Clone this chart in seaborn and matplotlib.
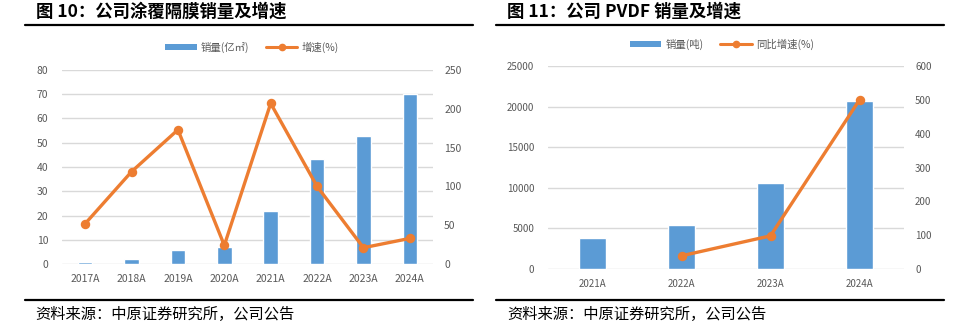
import matplotlib
matplotlib.use("Agg")
import matplotlib.pyplot as plt
from matplotlib.lines import Line2D
from matplotlib.patches import Patch
import seaborn as sns
import pandas as pd
import numpy as np

sns.set_theme(style="white")
plt.rcParams["font.family"] = ["Noto Sans CJK SC", "DejaVu Sans"]
plt.rcParams["axes.unicode_minus"] = False

# Coated separator sales volume (100M m²) and growth (%)
sep_years = ["2017A", "2018A", "2019A", "2020A", "2021A", "2022A", "2023A", "2024A"]
sep_volume = [1.0, 1.9, 5.8, 7.0, 21.7, 43.4, 52.6, 70.0]
sep_growth = [52, 119, 173, 24, 207, 100, 21, 33]

# PVDF sales volume (t) and YoY growth (%)
pvdf_years = ["2021A", "2022A", "2023A", "2024A"]
pvdf_volume = [3800, 5400, 10600, 20700]
pvdf_growth_years = ["2022A", "2023A", "2024A"]
pvdf_growth = [39, 98, 500]

BLUE = "#5B9BD5"
ORANGE = "#ED7D31"
GRID = "#D9D9D9"
TICK = "#595959"

W, H = 961, 331
fig = plt.figure(figsize=(W / 100, H / 100), dpi=100)
fig.patch.set_facecolor("white")


def px_axes(x0, y0, x1, y1):
    return fig.add_axes([x0 / W, 1 - y1 / H, (x1 - x0) / W, (y1 - y0) / H])


def hline(x0, x1, y, lw=1.6):
    fig.add_artist(Line2D([x0 / W, x1 / W], [1 - y / H, 1 - y / H],
                          color="black", lw=lw, transform=fig.transFigure))


def style(ax, ax2, ymax, ystep, y2max, y2step, fs):
    ax.set_ylim(0, ymax)
    ax.set_yticks(np.arange(0, ymax + 1, ystep))
    ax2.set_ylim(0, y2max)
    ax2.set_yticks(np.arange(0, y2max + 1, y2step))
    ax.yaxis.grid(True, color=GRID, lw=1.0, zorder=0)
    ax.set_axisbelow(True)
    for a in (ax, ax2):
        for s in a.spines.values():
            s.set_visible(False)
        a.tick_params(length=0, colors=TICK, labelsize=fs)
        a.set_xlabel("")
        a.set_ylabel("")
    ax.tick_params(axis="y", pad=10)
    ax2.tick_params(axis="y", pad=8)
    ax.tick_params(axis="x", pad=7)


def legend(cx, cy, labels):
    handles = [Patch(facecolor=BLUE, edgecolor="none"),
               Line2D([0], [0], color=ORANGE, lw=2.2, marker="o", markersize=4.5)]
    fig.legend(handles, labels, loc="center", bbox_to_anchor=(cx / W, 1 - cy / H),
               ncol=2, frameon=False, fontsize=7.5, handlelength=3.0,
               handleheight=0.45, columnspacing=1.6, handletextpad=0.4,
               labelcolor=TICK)


def source(x):
    fig.text(x / W, 1 - 314 / H, "资料来源：中原证券研究所，公司公告", fontsize=11,
             va="center", ha="left", color="black")


# ---------------- left panel ----------------
fig.text(36 / W, 1 - 12 / H, "图 10：公司涂覆隔膜销量及增速", fontsize=12.5,
         fontweight="bold", va="center", ha="left", color="black")
hline(25, 473, 25)
hline(25, 473, 300)
source(35)

ax1 = px_axes(62, 70, 433, 264)
df1 = pd.DataFrame({"year": sep_years, "volume": sep_volume, "growth": sep_growth})
sns.barplot(data=df1, x="year", y="volume", order=sep_years, color=BLUE,
            width=0.31, saturation=1, ax=ax1)
ax1b = ax1.twinx()
sns.pointplot(data=df1, x="year", y="growth", order=sep_years, color=ORANGE,
              markers="o", markersize=5, linewidth=2.4, ax=ax1b)
ax1b.set_xlim(-0.5, len(sep_years) - 0.5)
style(ax1, ax1b, 80, 10, 250, 50, 7.5)
legend(252, 47, ["销量(亿㎡)", "增速(%)"])

# ---------------- right panel ----------------
fig.text(507 / W, 1 - 12 / H, "图 11：公司 PVDF 销量及增速", fontsize=12.5,
         fontweight="bold", va="center", ha="left", color="black")
hline(496, 944, 25)
hline(496, 944, 300)
source(507)

ax2 = px_axes(548, 66, 904, 269)
df2 = pd.DataFrame({"year": pvdf_years, "volume": pvdf_volume})
df2g = pd.DataFrame({"year": pvdf_growth_years, "growth": pvdf_growth})
sns.barplot(data=df2, x="year", y="volume", order=pvdf_years, color=BLUE,
            width=0.31, saturation=1, ax=ax2)
ax2b = ax2.twinx()
sns.pointplot(data=df2g, x="year", y="growth", order=pvdf_years, color=ORANGE,
              markers="o", markersize=5, linewidth=2.4, ax=ax2b)
ax2b.set_xlim(-0.5, len(pvdf_years) - 0.5)
style(ax2, ax2b, 25000, 5000, 600, 100, 7)
legend(722, 44, ["销量(吨)", "同比增速(%)"])

fig.savefig("out.png", dpi=100, facecolor="white")
